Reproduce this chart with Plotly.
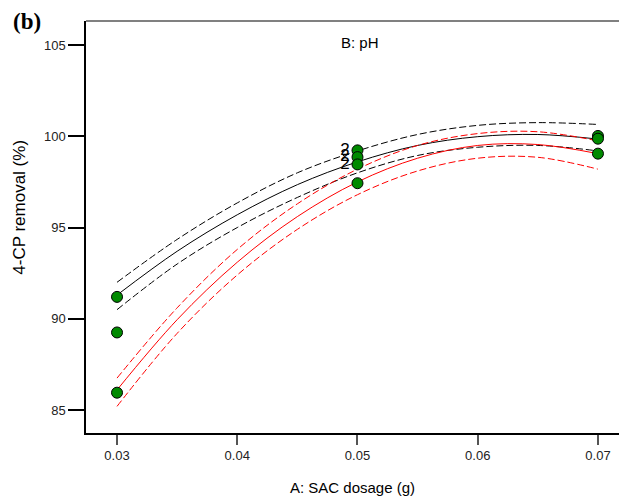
import plotly.graph_objects as go

dose = [0.03, 0.035, 0.04, 0.045, 0.05, 0.055, 0.06, 0.065, 0.07]

# pH level 1 (black): prediction and confidence band
black_fit = [91.3, 93.7, 95.7, 97.35, 98.6, 99.5, 99.98, 100.1, 99.85]
black_upper = [92.0, 94.35, 96.35, 98.0, 99.2, 100.1, 100.6, 100.75, 100.65]
black_lower = [90.5, 93.0, 95.0, 96.65, 98.0, 98.95, 99.4, 99.5, 99.2]

# pH level 2 (red): prediction and confidence band
red_fit = [86.1, 89.95, 93.1, 95.6, 97.5, 98.8, 99.5, 99.55, 99.05]
red_upper = [86.75, 90.6, 93.8, 96.3, 98.2, 99.5, 100.15, 100.25, 99.75]
red_lower = [85.2, 89.2, 92.4, 94.9, 96.8, 98.1, 98.8, 98.85, 98.2]

# design points
pt_dose = [0.03, 0.03, 0.03, 0.05, 0.05, 0.05, 0.05, 0.07, 0.07, 0.07]
pt_removal = [91.2, 89.25, 85.95, 99.23, 98.86, 98.46, 97.43, 100.02, 99.87, 99.05]
pt_labels = ["", "", "", "2", "2", "2", "", "", "", ""]

fig = go.Figure()

curves = [
    (black_upper, "black", "7px,3px"),
    (black_fit, "black", "solid"),
    (black_lower, "black", "7px,3px"),
    (red_upper, "red", "7px,3px"),
    (red_fit, "red", "solid"),
    (red_lower, "red", "7px,3px"),
]
for ys, col, dash in curves:
    fig.add_trace(go.Scatter(
        x=dose, y=ys, mode="lines",
        line=dict(color=col, width=1, dash=dash, shape="spline", smoothing=1),
        hoverinfo="skip", showlegend=False
    ))

fig.add_trace(go.Scatter(
    x=pt_dose, y=pt_removal, mode="markers+text",
    text=pt_labels, textposition="middle left",
    textfont=dict(family="Liberation Sans, Arial", size=17, color="black"),
    marker=dict(color="#008a00", size=11, line=dict(color="black", width=1)),
    showlegend=False
))

font = "Liberation Sans, Arial, sans-serif"

fig.update_layout(
    width=619, height=496,
    margin=dict(l=86, r=0, t=21, b=63),
    paper_bgcolor="white", plot_bgcolor="white",
    font=dict(family=font, color="black"),
    xaxis=dict(
        range=[0.02742, 0.07175],
        tickvals=[0.03, 0.04, 0.05, 0.06, 0.07],
        ticktext=["0.03", "0.04", "0.05", "0.06", "0.07"],
        ticks="outside", ticklen=10, tickcolor="#555", tickwidth=1.5,
        tickfont=dict(size=13, color="#222"),
        showline=True, linecolor="black", linewidth=1.5,
        showgrid=False, zeroline=False,
        title=dict(text="A: SAC dosage (g)", font=dict(size=15), standoff=20),
    ),
    yaxis=dict(
        range=[83.74, 106.32],
        tickvals=[85, 90, 95, 100, 105],
        ticks="outside", ticklen=16, tickcolor="black", tickwidth=1.5,
        tickfont=dict(size=13, color="#222"),
        showline=True, linecolor="black", linewidth=1.5,
        showgrid=False, zeroline=False,
    ),
    shapes=[dict(type="line", xref="paper", yref="paper", x0=0, x1=1, y0=1, y1=1,
                 line=dict(color="#808080", width=2))],
    annotations=[
        dict(text="<b>(b)</b>", xref="paper", yref="paper", x=-0.14, y=1.0,
             xanchor="left", yanchor="middle", showarrow=False,
             font=dict(family="Liberation Serif, Times New Roman, serif", size=23, color="black")),
        dict(text="B: pH", xref="x", yref="paper", x=0.0502, y=0.947,
             xanchor="center", yanchor="middle", showarrow=False,
             font=dict(size=15, color="black")),
        dict(text="4-CP removal (%)", xref="paper", yref="paper", x=-0.124, y=0.549,
             xanchor="center", yanchor="middle", textangle=-90, showarrow=False,
             font=dict(size=17, color="black")),
    ],
)

# drop the page's default 8px body margin so the figure sits at the corner
fig.write_html("out.html", config={"displayModeBar": False},
               post_script="document.body.style.margin='0';")
